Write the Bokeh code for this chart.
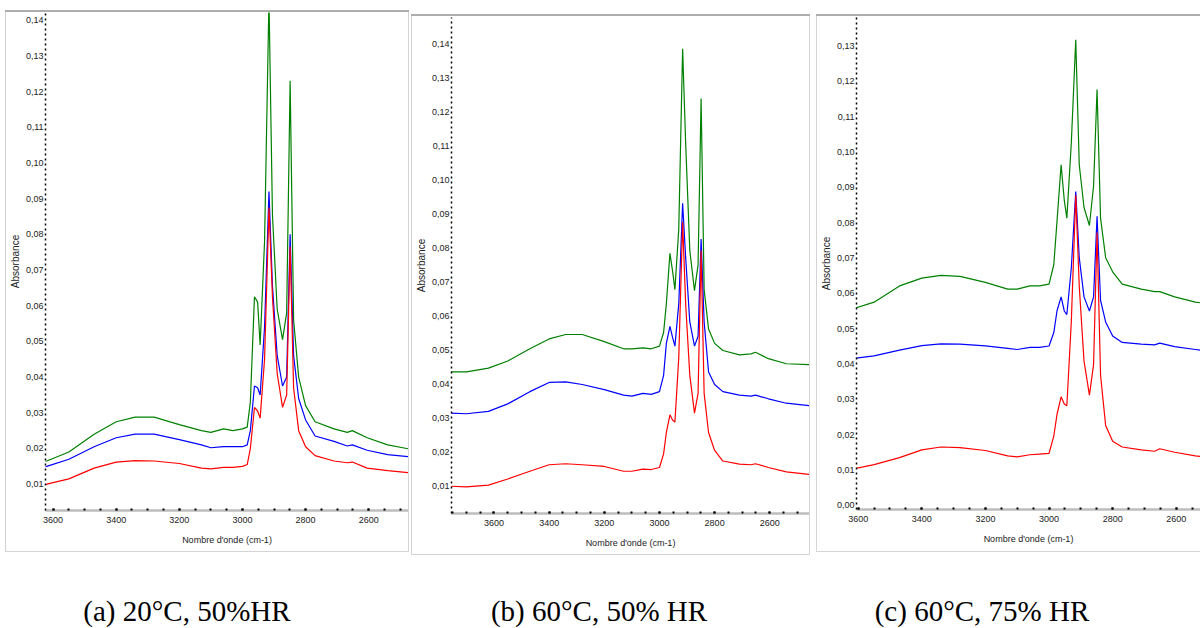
from bokeh.plotting import figure
from bokeh.models import Range1d, SingleIntervalTicker, CustomJSTickFormatter, Label, Spacer
from bokeh.layouts import row, column
from bokeh.embed import file_html
from bokeh.resources import INLINE

# ---------------- data ----------------
wavenumber = [3760, 3700, 3620, 3550, 3470, 3400, 3340, 3280, 3200, 3130, 3100, 3060,
              3030, 3000, 2985, 2975, 2962, 2952, 2944, 2930, 2916, 2905, 2890, 2873,
              2860, 2849, 2838, 2822, 2800, 2770, 2710, 2668, 2652, 2605, 2540, 2450]

# (a) 20°C, 50% HR
a_green = [0.0150, 0.0155, 0.0165, 0.0190, 0.0240, 0.0275, 0.0288, 0.0288, 0.0267, 0.0250, 0.0245, 0.0255,
           0.0250, 0.0255, 0.0260, 0.0330, 0.0625, 0.0610, 0.0490, 0.0780, 0.1460, 0.0855, 0.0590, 0.0505,
           0.0580, 0.1230, 0.0560, 0.0400, 0.0320, 0.0275, 0.0255, 0.0245, 0.0250, 0.0230, 0.0210, 0.0195]
a_blue = [0.0135, 0.0140, 0.0150, 0.0170, 0.0205, 0.0230, 0.0240, 0.0240, 0.0225, 0.0210, 0.0202, 0.0205,
          0.0205, 0.0205, 0.0210, 0.0250, 0.0375, 0.0370, 0.0350, 0.0540, 0.0920, 0.0655, 0.0460, 0.0375,
          0.0400, 0.0800, 0.0460, 0.0340, 0.0280, 0.0235, 0.0220, 0.0207, 0.0210, 0.0195, 0.0183, 0.0175]
a_red = [0.0080, 0.0088, 0.0100, 0.0115, 0.0145, 0.0162, 0.0166, 0.0165, 0.0158, 0.0145, 0.0143, 0.0147,
         0.0147, 0.0150, 0.0155, 0.0200, 0.0315, 0.0305, 0.0285, 0.0450, 0.0875, 0.0625, 0.0410, 0.0315,
         0.0350, 0.0765, 0.0370, 0.0250, 0.0205, 0.0180, 0.0165, 0.0160, 0.0162, 0.0145, 0.0138, 0.0130]

# (b) 60°C, 50% HR
b_green = [0.0436, 0.0436, 0.0447, 0.0468, 0.0504, 0.0533, 0.0546, 0.0546, 0.0525, 0.0504, 0.0504, 0.0507,
           0.0504, 0.0512, 0.0552, 0.0636, 0.0785, 0.0730, 0.0678, 0.0856, 0.1386, 0.1108, 0.0793, 0.0675,
           0.0751, 0.1240, 0.0678, 0.0562, 0.0520, 0.0499, 0.0486, 0.0489, 0.0494, 0.0475, 0.0460, 0.0457]
b_blue = [0.0315, 0.0313, 0.0320, 0.0342, 0.0378, 0.0405, 0.0407, 0.0399, 0.0384, 0.0368, 0.0365, 0.0373,
          0.0370, 0.0378, 0.0426, 0.0520, 0.0570, 0.0536, 0.0512, 0.0636, 0.0932, 0.0772, 0.0583, 0.0512,
          0.0541, 0.0827, 0.0583, 0.0436, 0.0399, 0.0378, 0.0368, 0.0365, 0.0368, 0.0357, 0.0344, 0.0336]
b_red = [0.0100, 0.0098, 0.0103, 0.0121, 0.0144, 0.0163, 0.0166, 0.0163, 0.0158, 0.0144, 0.0144, 0.0150,
         0.0149, 0.0155, 0.0195, 0.0258, 0.0310, 0.0294, 0.0289, 0.0478, 0.0877, 0.0636, 0.0426, 0.0315,
         0.0373, 0.0793, 0.0373, 0.0258, 0.0205, 0.0174, 0.0165, 0.0163, 0.0166, 0.0155, 0.0142, 0.0134]

# (c) 60°C, 75% HR
c_green = [0.0540, 0.0545, 0.0555, 0.0575, 0.0621, 0.0643, 0.0651, 0.0648, 0.0631, 0.0612, 0.0612, 0.0621,
           0.0621, 0.0626, 0.0681, 0.0803, 0.0964, 0.0863, 0.0813, 0.1025, 0.1318, 0.0964, 0.0843, 0.0792,
           0.0904, 0.1177, 0.0813, 0.0701, 0.0661, 0.0626, 0.0612, 0.0605, 0.0605, 0.0590, 0.0575, 0.0565]
c_blue = [0.0410, 0.0412, 0.0415, 0.0423, 0.0439, 0.0452, 0.0457, 0.0456, 0.0451, 0.0444, 0.0441, 0.0447,
          0.0447, 0.0451, 0.0489, 0.0550, 0.0590, 0.0550, 0.0540, 0.0671, 0.0888, 0.0701, 0.0590, 0.0550,
          0.0590, 0.0818, 0.0580, 0.0519, 0.0479, 0.0461, 0.0456, 0.0454, 0.0459, 0.0449, 0.0441, 0.0430]
c_red = [0.0095, 0.0098, 0.0102, 0.0115, 0.0135, 0.0157, 0.0165, 0.0163, 0.0155, 0.0140, 0.0137, 0.0143,
         0.0145, 0.0147, 0.0196, 0.0257, 0.0307, 0.0287, 0.0282, 0.0519, 0.0878, 0.0620, 0.0408, 0.0312,
         0.0398, 0.0772, 0.0368, 0.0226, 0.0181, 0.0165, 0.0157, 0.0153, 0.0160, 0.0150, 0.0140, 0.0130]

captions = ["(a) 20°C, 50%HR", "(b) 60°C, 50% HR", "(c) 60°C, 75% HR"]
x_label = "Nombre d'onde (cm-1)"
y_label = "Absorbance"
x_tick_step = 200
y_tick_step = 0.01

colors = {"green": "#008000", "blue": "#0000ff", "red": "#ff0000"}
SANS = "Liberation Sans"
FRAME_TOP = "#adadad"
FRAME_SIDE = "#d4d4d4"
LEFT = 38


def panel(width, height, xr, yr, top, bottom, series):
    p = figure(width=width, height=height, x_range=Range1d(*xr), y_range=Range1d(*yr),
               output_backend="svg", toolbar_location=None,
               min_border_left=LEFT, min_border_right=0, min_border_top=top, min_border_bottom=bottom)
    p.outline_line_color = None
    p.grid.visible = False

    for vals, col in series:
        p.line(wavenumber, vals, line_color=colors[col], line_width=1.2)

    xa = p.xaxis[0]
    xa.ticker = SingleIntervalTicker(interval=x_tick_step, num_minor_ticks=4)
    xa.axis_line_color = "#bdbdbd"
    xa.axis_line_width = 2.5
    xa.major_tick_in = 2
    xa.major_tick_out = 0
    xa.minor_tick_in = 2
    xa.minor_tick_out = 0
    xa.major_tick_line_color = "black"
    xa.minor_tick_line_color = "black"
    xa.major_tick_line_width = 2
    xa.minor_tick_line_width = 2
    xa.major_label_text_font = SANS
    xa.major_label_text_font_size = "9px"
    xa.major_label_text_color = "#222222"
    xa.major_label_standoff = 6
    xa.axis_label = x_label
    xa.axis_label_text_font = SANS
    xa.axis_label_text_font_size = "9px"
    xa.axis_label_text_font_style = "normal"
    xa.axis_label_text_color = "#222222"
    xa.axis_label_standoff = 9

    ya = p.yaxis[0]
    ya.ticker = SingleIntervalTicker(interval=y_tick_step, num_minor_ticks=0)
    ya.formatter = CustomJSTickFormatter(code="return tick.toFixed(2).replace('.', ',');")
    ya.axis_line_color = "black"
    ya.axis_line_width = 1.5
    ya.axis_line_dash = "2 3"
    ya.major_tick_in = 0
    ya.major_tick_out = 0
    ya.minor_tick_in = 0
    ya.minor_tick_out = 0
    ya.major_label_text_font = SANS
    ya.major_label_text_font_size = "9px"
    ya.major_label_text_color = "#222222"
    ya.major_label_standoff = 2
    ya.axis_label = y_label
    ya.axis_label_text_font = SANS
    ya.axis_label_text_font_size = "10px"
    ya.axis_label_text_font_style = "normal"
    ya.axis_label_text_color = "#222222"
    ya.axis_label_standoff = 2
    return p


def framed(p, width, height, right=True):
    inner = [Spacer(width=1, height=height, styles={"background-color": FRAME_SIDE}), p]
    total = width + 1 + (1 if right else 0)
    if right:
        inner.append(Spacer(width=1, height=height, styles={"background-color": FRAME_SIDE}))
    return column(Spacer(width=total, height=2, styles={"background-color": FRAME_TOP}),
                  row(*inner),
                  Spacer(width=total, height=1, styles={"background-color": FRAME_SIDE}))


# panel a: plot left 44, right 408, top 12, bottom 510
pa = panel(402, 539, (3624, 2474), (0.00263, 0.14213), 0, 41,
           [(a_green, "green"), (a_blue, "blue"), (a_red, "red")])
# panel b: plot left 450, right 809, top 17, bottom 513
pb = panel(397, 538, (3754, 2456), (0.00197, 0.14782), 1, 41,
           [(b_green, "green"), (b_blue, "blue"), (b_red, "red")])
# panel c: plot left 855, right 1200, top 17, bottom 509
pc = panel(383, 535, (3605.3, 2523.8), (-0.0012, 0.1381), 1, 42,
           [(c_green, "green"), (c_blue, "blue"), (c_red, "red")])

fa = framed(pa, 402, 539)
fb = framed(pb, 397, 538)
fc = framed(pc, 383, 535, right=False)

cap = figure(width=1200, height=72, x_range=Range1d(0, 1200), y_range=Range1d(0, 72),
             output_backend="svg", toolbar_location=None, x_axis_location=None, y_axis_location=None,
             min_border=0)
cap.outline_line_color = None
cap.grid.visible = False
for txt, cx in zip(captions, [186.5, 598.5, 981.5]):
    cap.add_layout(Label(x=cx, y=17, x_units="screen", y_units="screen", text=txt,
                         text_align="center", text_baseline="middle",
                         text_font="Liberation Serif", text_font_size="29px", text_color="black"))

top = row(Spacer(width=5, height=10), column(Spacer(width=10, height=10), fa),
          Spacer(width=2, height=10), column(Spacer(width=10, height=14), fb),
          Spacer(width=6, height=10), column(Spacer(width=10, height=14), fc))
layout = column(top, cap)

open("out.html", "w").write(file_html(layout, INLINE))
